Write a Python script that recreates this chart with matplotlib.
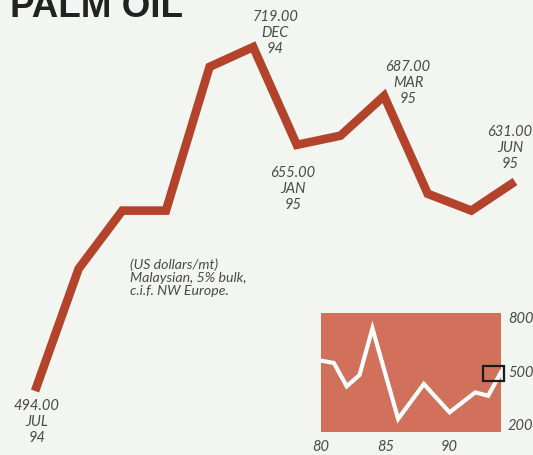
import matplotlib
matplotlib.use("Agg")
import matplotlib.pyplot as plt
from matplotlib.patches import Rectangle

# Monthly palm oil price, Jul 94 - Jun 95 (US dollars/mt)
months = ["JUL", "AUG", "SEP", "OCT", "NOV", "DEC", "JAN", "FEB", "MAR", "APR", "MAY", "JUN"]
years = ["94", "94", "94", "94", "94", "94", "95", "95", "95", "95", "95", "95"]
prices = [494, 574, 612, 612, 706, 719, 655, 661, 687, 623, 612, 631]
labelled = [0, 5, 6, 8, 11]

# Long-run annual price, 1980-94
hist_years = [80, 81, 82, 83, 84, 86, 88, 90, 92, 93, 94]
hist_prices = [555, 542, 411, 475, 736, 228, 424, 265, 377, 358, 490]
hist_xticks = [80, 85, 90]
hist_yticks = [800, 500, 200]

W, H = 533, 456
BG = "#f3f5f1"
LINE = "#b4432b"
PANEL = "#d1705b"
TXT = "#4a4a4a"

fig = plt.figure(figsize=(W / 100, H / 100), dpi=100, facecolor=BG)

# Main chart fills the whole canvas; limits chosen so months spread across
ax = fig.add_axes([0, 0, 1, 1])
ax.set_facecolor(BG)
x = list(range(len(prices)))
step = 43.6
ax.set_xlim(-35 / step, 11 + 18 / step)
scale = 1.529
ax.set_ylim(719 - 408 / scale, 719 + 48 / scale)
ax.plot(x, prices, color=LINE, lw=6.2, solid_joinstyle="miter", solid_capstyle="butt")
ax.axis("off")

font = dict(family=["Lato", "DejaVu Sans"], style="italic", color=TXT, fontsize=10.5)

# price / month labels: (dx, dy) pixel offsets from the point to the text top
offsets = {0: (2, -7), 5: (22, 38), 6: (-4, -20), 8: (24, 37), 11: (-5, 58)}
for i in labelled:
    dx, dy = offsets[i]
    ax.annotate(f"{prices[i]:.2f}\n{months[i]}\n{years[i]}", (x[i], prices[i]),
                xytext=(dx, dy), textcoords="offset pixels",
                ha="center", va="top", linespacing=1.2, **font)

fig.text(130 / W, 1 - 258 / H, "(US dollars/mt)\nMalaysian, 5% bulk,\nc.i.f. NW Europe.",
         ha="left", va="top", linespacing=1.12, family=["Lato", "DejaVu Sans"],
         style="italic", color=TXT, fontsize=10.2)

fig.text(10 / W, 1 - 17 / H, "PALM OIL", ha="left", va="baseline",
         family=["Liberation Sans", "DejaVu Sans"], fontweight="bold",
         fontsize=26.5, color="#222222")

# Inset: long-run history
ix0, ix1, iy0, iy1 = 321, 501, 314, 433
inset = fig.add_axes([ix0 / W, 1 - iy1 / H, (ix1 - ix0) / W, (iy1 - iy0) / H])
inset.set_facecolor(PANEL)
inset.plot(hist_years, hist_prices, color="white", lw=3, solid_joinstyle="miter")
inset.set_xlim(80, 94)
inset.set_ylim(155, 822)
for s in inset.spines.values():
    s.set_visible(False)
inset.set_xticks(hist_xticks)
inset.set_xticklabels([str(v) for v in hist_xticks], **font)
inset.set_yticks(hist_yticks)
inset.yaxis.tick_right()
inset.set_yticklabels([str(v) for v in hist_yticks], **font)
inset.tick_params(length=0, pad=5)
inset.add_patch(Rectangle((92.6, 440), 1.62, 86, fill=False, ec="#1a1a1a",
                          lw=1.6, clip_on=False, zorder=5))

fig.savefig("out.png", dpi=100, facecolor=BG)
